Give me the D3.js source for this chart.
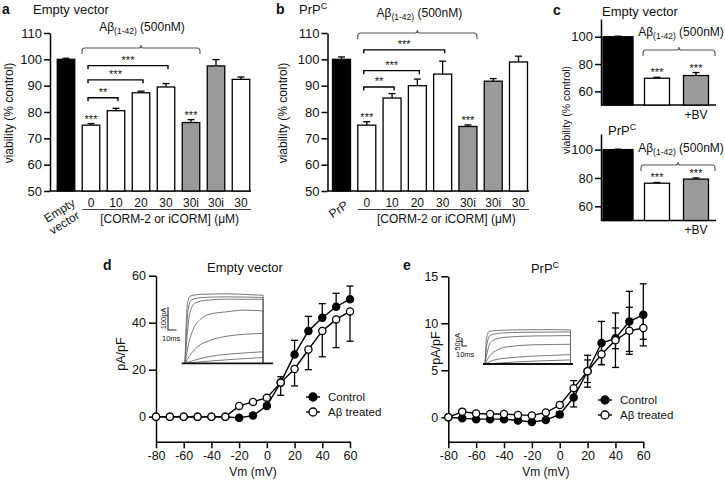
<!DOCTYPE html>
<html>
<head>
<meta charset="utf-8">
<script src="https://cdn.jsdelivr.net/npm/d3@7"></script>
<style>
  body { margin: 0; background: #fff; }
  svg { font-family: "Liberation Sans", Arial, sans-serif; }
</style>
</head>
<body>
<svg id="fig" width="725" height="484"></svg>
<script>
// ---------- data ----------
// panels a / b : cell viability
const doseLabels = ["0", "10", "20", "30", "30i", "30i", "30"];
const barFill = ["#000", "#fff", "#fff", "#fff", "#fff", "#9a9a9a", "#9a9a9a", "#fff"];
const viabilityA = [100, 75, 80.5, 87.3, 89.5, 76, 97.5, 92.4];
const viabilityErrA = [0.4, 0.6, 0.9, 0.6, 1.3, 1.1, 2.4, 0.9];
const viabilityB = [100, 75, 85.3, 90, 94.4, 74.5, 91.7, 99];
const viabilityErrB = [0.9, 1.3, 1.7, 2.5, 4.9, 0.6, 1.0, 2.2];
const starBars = [1, 5];
const sigPairs = [[1, 2, "**"], [1, 3, "***"], [1, 4, "***"]];
const sigLevelsA = [85.4, 92.2, 97.6];
const sigLevelsB = [89.5, 95.7, 103.6];
const viabTicks = [50, 60, 70, 80, 90, 100, 110];

// panel c : biliverdin
const bvFill = ["#000", "#fff", "#9a9a9a"];
const viabilityC1 = [100, 69.6, 71.6];
const viabilityErrC1 = [0.4, 0.7, 2.2];
const viabilityC2 = [100, 76.3, 79.2];
const viabilityErrC2 = [0.3, 0.5, 0.8];
const viabTicksC = [60, 80, 100];

// panels d / e : I-V relations
const vm = [-80, -70, -60, -50, -40, -30, -20, -10, 0, 10, 20, 30, 40, 50, 60];
const vmTicks = [-80, -60, -40, -20, 0, 20, 40, 60];
const ivCtrlD = [0, 0, 0, 0, 0, 0, -0.5, 0.5, 4.6, 14.6, 26.5, 36.5, 42.1, 46.8, 50];
const ivCtrlErrD = [0, 0, 0, 0, 0, 0, 0.3, 0.8, 1, 2.4, 6, 6.2, 6, 5.7, 5.6];
const ivAbD = [0, 0, 0, 0, 0, 0, 4.6, 6.3, 8.1, 14.5, 20.3, 28.6, 36.5, 41.4, 44.8];
const ivAbErrD = [0, 0, 0, 0, 0, 0, 0.5, 0.8, 1, 5.4, 7.2, 8.6, 11, 12, 12.7];
const ivCtrlE = [0, -0.1, -0.2, -0.2, -0.2, -0.35, -0.5, -0.3, 0.3, 2.1, 4.9, 7.9, 8.4, 10.2, 10.9];
const ivCtrlErrE = [0, 0.1, 0.1, 0.1, 0.1, 0.1, 0.1, 0.1, 0.3, 1.0, 1.2, 2.3, 1.1, 3.2, 3.3];
const ivAbE = [0, 0.6, 0.4, 0.35, 0.35, 0.25, 0.2, 0.5, 1.3, 3.1, 4.9, 6.7, 8.2, 9.2, 9.5];
const ivAbErrE = [0, 0.1, 0.1, 0.1, 0.1, 0.1, 0.1, 0.1, 0.2, 0.8, 1.7, 1.1, 2.9, 2.5, 1.2];

// inset current traces, [ms, pA]
const tracesD = [
  [[0, 0], [1.5, 180], [3, 260], [6, 292], [20, 300], [50, 302], [80, 298], [93, 296]],
  [[0, 0], [2, 150], [4, 240], [8, 276], [20, 286], [50, 289], [93, 286]],
  [[0, 0], [3, 140], [6, 222], [12, 262], [25, 274], [50, 279], [93, 278]],
  [[0, 0], [4, 80], [10, 150], [18, 190], [30, 214], [50, 224], [70, 231], [93, 228]],
  [[0, 0], [5, 30], [15, 72], [30, 100], [50, 118], [70, 126], [93, 130]],
  [[0, 0], [10, 12], [30, 30], [60, 42], [93, 50]],
  [[0, 0], [30, 10], [60, 18], [93, 25]]
];
const tracesE = [
  [[0, 0], [3, 150], [8, 195], [30, 202], [80, 205], [130, 206], [171, 204]],
  [[0, 0], [4, 120], [10, 170], [30, 185], [80, 190], [171, 192]],
  [[0, 0], [6, 90], [15, 140], [40, 160], [100, 168], [171, 170]],
  [[0, 0], [10, 50], [25, 85], [50, 105], [100, 115], [171, 118]],
  [[0, 0], [20, 25], [60, 40], [120, 50], [171, 56]],
  [[0, 0], [60, 12], [171, 24]]
];

// ---------- helpers ----------
const svg = d3.select("#fig");

function styleAxis(sel, size) {
  sel.attr("font-size", size).attr("font-family", null);
  sel.select(".domain").attr("stroke-width", 1.5);
  sel.selectAll(".tick line").attr("stroke-width", 1.5);
  sel.selectAll(".tick text").attr("fill", "#111");
}

function addText(g, x, y, str, size, anchor, weight) {
  return g.append("text").attr("x", x).attr("y", y)
    .attr("font-size", size).attr("text-anchor", anchor || "start")
    .attr("font-weight", weight || "normal").attr("fill", "#111").text(str);
}

function prpLabel(g, x, y, size, anchor) {
  const t = addText(g, x, y, "PrP", size, anchor);
  t.append("tspan").attr("font-size", size * 0.7).attr("dy", -size * 0.38).text("C");
  return t;
}

function abetaLabel(g, x, y) {
  const t = g.append("text").attr("x", x).attr("y", y).attr("font-size", 12)
    .attr("text-anchor", "middle").attr("fill", "#111");
  t.append("tspan").text("Aβ");
  t.append("tspan").attr("font-size", 8.5).attr("dy", 3).text("(1-42)");
  t.append("tspan").attr("dy", -3).text(" (500nM)");
}

function brace(g, x0, x1, yy) {
  const xm = (x0 + x1) / 2, r = 3;
  g.append("path")
    .attr("d", `M${x0},${yy + 6}V${yy + r}Q${x0},${yy} ${x0 + r},${yy}H${xm - 2}` +
      `Q${xm},${yy} ${xm},${yy - 3}Q${xm},${yy} ${xm + 2},${yy}H${x1 - r}` +
      `Q${x1},${yy} ${x1},${yy + r}V${yy + 6}`)
    .attr("fill", "none").attr("stroke", "#555").attr("stroke-width", 1.1);
}

function stars(g, x, y, label) {
  addText(g, x, y, label, 11, "middle");
}

// bar chart with error bars
function drawBars(p) {
  const g = svg.append("g");
  const y = d3.scaleLinear().domain(p.yDomain).range(p.yRange);
  const x = d3.scaleLinear().domain([0, p.values.length - 1]).range(p.xRange);
  const base = y(p.yDomain[0]);

  const ax = g.append("g").attr("transform", `translate(${p.axisX},0)`)
    .call(d3.axisLeft(y).tickValues(p.ticks).tickSize(6).tickSizeOuter(0).tickPadding(2));
  styleAxis(ax, 13);
  g.append("line").attr("x1", p.axisX).attr("x2", p.xEnd).attr("y1", base).attr("y2", base)
    .attr("stroke", "#000").attr("stroke-width", 1.5);

  const bw = i => (p.widths ? p.widths[i] : p.barWidth);
  const bars = g.selectAll(".bar").data(p.values).join("g");
  bars.append("line")
    .attr("x1", (d, i) => x(i)).attr("x2", (d, i) => x(i))
    .attr("y1", d => y(d)).attr("y2", (d, i) => y(d + p.errors[i]))
    .attr("stroke", "#000").attr("stroke-width", 1.3);
  bars.append("line")
    .attr("x1", (d, i) => x(i) - 3.5).attr("x2", (d, i) => x(i) + 3.5)
    .attr("y1", (d, i) => y(d + p.errors[i])).attr("y2", (d, i) => y(d + p.errors[i]))
    .attr("stroke", "#000").attr("stroke-width", 1.3);
  bars.append("rect")
    .attr("x", (d, i) => x(i) - bw(i) / 2).attr("width", (d, i) => bw(i))
    .attr("y", d => y(d)).attr("height", d => base - y(d))
    .attr("fill", (d, i) => p.fills[i]).attr("stroke", "#000").attr("stroke-width", 1.3);

  p.starBars.forEach(i => stars(g, x(i), y(p.values[i] + p.errors[i]) - 1, "***"));
  return { g, x, y, bw };
}

function sigBrackets(g, x, y, levels) {
  sigPairs.forEach((s, k) => {
    const yy = y(levels[k]), x0 = x(s[0]) - 3, x1 = x(s[1]) + 2;
    g.append("path").attr("d", `M${x0},${yy + 3.5}V${yy}H${x1}V${yy + 3.5}`)
      .attr("fill", "none").attr("stroke", "#000").attr("stroke-width", 1.4);
    stars(g, (x0 + x1) / 2, yy - 1.7, s[2]);
  });
}

function doseAxis(g, x, bw, lineEnd, yNum) {
  doseLabels.forEach((l, i) => addText(g, x(i + 1), yNum, l, 12, "middle"));
  const x0 = x(1) - bw / 2;
  g.append("line").attr("x1", x0).attr("x2", lineEnd).attr("y1", yNum + 2.5).attr("y2", yNum + 2.5)
    .attr("stroke", "#444").attr("stroke-width", 1);
  addText(g, (x0 + lineEnd) / 2 + 3, yNum + 16, "[CORM-2 or iCORM] (μM)", 12, "middle");
}

function yTitle(g, x, y, str, size) {
  g.append("text").attr("transform", `translate(${x},${y}) rotate(-90)`)
    .attr("text-anchor", "middle").attr("font-size", size).attr("fill", "#111").text(str);
}

// ---------- panel a ----------
const pa = drawBars({
  values: viabilityA, errors: viabilityErrA, fills: barFill, starBars,
  yDomain: [50, 110], yRange: [191, 33], ticks: viabTicks,
  xRange: [66, 241], axisX: 50, xEnd: 251, barWidth: 17.5
});
sigBrackets(pa.g, pa.x, pa.y, sigLevelsA);
brace(pa.g, pa.x(1) - 9, pa.x(5) + 9, pa.y(104.3));
abetaLabel(pa.g, (pa.x(1) + pa.x(5)) / 2 + 1, pa.y(104.3) - 17);
doseAxis(pa.g, pa.x, 17.5, 251, 207);
addText(pa.g, 2, 14, "a", 14, "start", "bold");
addText(pa.g, 33, 14, "Empty vector", 13);
yTitle(pa.g, 13, 113, "viability (% control)", 12);
const evLab = pa.g.append("text").attr("transform", "translate(76,205) rotate(-32)")
  .attr("font-size", 12).attr("text-anchor", "end").attr("fill", "#111");
evLab.append("tspan").attr("x", 0).attr("y", 0).text("Empty");
evLab.append("tspan").attr("x", -3).attr("y", 13).text("vector");

// ---------- panel b ----------
const pb = drawBars({
  values: viabilityB, errors: viabilityErrB, fills: barFill, starBars,
  yDomain: [50, 110], yRange: [191, 33], ticks: viabTicks,
  xRange: [341.5, 518.5], axisX: 327.5, xEnd: 529, barWidth: 18
});
sigBrackets(pb.g, pb.x, pb.y, sigLevelsB);
brace(pb.g, pb.x(1) - 9, pb.x(5) + 9, pb.y(110));
abetaLabel(pb.g, (pb.x(1) + pb.x(5)) / 2 + 2, pb.y(110) - 16);
doseAxis(pb.g, pb.x, 18, 529, 207);
addText(pb.g, 276, 14, "b", 14, "start", "bold");
prpLabel(pb.g, 299, 14, 13);
yTitle(pb.g, 287, 113, "viability (% control)", 12);
pb.g.append("text").attr("transform", "translate(349,207) rotate(-35)")
  .attr("font-size", 12).attr("text-anchor", "end").attr("fill", "#111").text("PrP");

// ---------- panel c ----------
function bvPanel(values, errors, yRange, yDomain) {
  return drawBars({
    values, errors, fills: bvFill, starBars: [1, 2],
    yDomain, yRange, ticks: viabTicksC,
    xRange: [618, 696], axisX: 601, xEnd: 716, widths: [30, 25, 25]
  });
}
const pc1 = bvPanel(viabilityC1, viabilityErrC1, [105, 19], [50, 113]);
brace(pc1.g, 643, 715, 50);
abetaLabel(pc1.g, 681, 36);
addText(pc1.g, pc1.x(2), 119, "+BV", 12, "middle");
addText(pc1.g, 553, 15, "c", 14, "start", "bold");
addText(pc1.g, 602, 16, "Empty vector", 13);

const pc2 = bvPanel(viabilityC2, viabilityErrC2, [220.5, 134], [50, 111]);
brace(pc2.g, 641, 715, 165);
abetaLabel(pc2.g, 681, 152);
addText(pc2.g, pc2.x(2), 234, "+BV", 12, "middle");
prpLabel(pc2.g, 608, 135, 13);
yTitle(pc2.g, 570, 110, "viability (% control)", 10.5);

// ---------- panels d / e ----------
function drawIV(p) {
  const g = svg.append("g");
  const x = d3.scaleLinear().domain([-80, 60]).range(p.xRange);
  const y = d3.scaleLinear().domain(p.yDomain).range(p.yRange);
  const yAx = g.append("g").attr("transform", `translate(${p.xRange[0]},0)`)
    .call(d3.axisLeft(y).tickValues(p.yTicks).tickSize(7).tickSizeOuter(0).tickPadding(3));
  styleAxis(yAx, 12.5);
  const xAx = g.append("g").attr("transform", `translate(0,${p.yRange[0]})`)
    .call(d3.axisBottom(x).tickValues(vmTicks).tickSize(6.5).tickSizeOuter(0).tickPadding(3));
  styleAxis(xAx, 12.5);
  xAx.selectAll(".tick text").text(d => (d < 0 ? "-" + Math.abs(d) : d));

  const series = [
    { v: p.ctrl, e: p.ctrlErr, fill: "#000", dir: p.symmetric ? 0 : 1 },
    { v: p.ab, e: p.abErr, fill: "#fff", dir: p.symmetric ? 0 : -1 }
  ];
  const line = d3.line().x((d, i) => x(vm[i])).y(d => y(d));
  series.forEach(s => {
    g.append("path").attr("d", line(s.v)).attr("fill", "none")
      .attr("stroke", "#000").attr("stroke-width", 1.4);
    s.v.forEach((v, i) => {
      if (s.e[i] < 0.6 && !p.symmetric) return;
      if (s.e[i] <= 0.1) return;
      const lo = s.dir > 0 ? v : v - s.e[i];
      const hi = s.dir < 0 ? v : v + s.e[i];
      g.append("line").attr("x1", x(vm[i])).attr("x2", x(vm[i]))
        .attr("y1", y(lo)).attr("y2", y(hi)).attr("stroke", "#000").attr("stroke-width", 1.3);
      [lo, hi].forEach(c => {
        if (c === v) return;
        g.append("line").attr("x1", x(vm[i]) - 3.5).attr("x2", x(vm[i]) + 3.5)
          .attr("y1", y(c)).attr("y2", y(c)).attr("stroke", "#000").attr("stroke-width", 1.3);
      });
    });
    g.selectAll(null).data(s.v).join("circle")
      .attr("cx", (d, i) => x(vm[i])).attr("cy", d => y(d)).attr("r", 3.6)
      .attr("fill", s.fill).attr("stroke", "#000").attr("stroke-width", 1.3);
  });

  // legend
  [["Control", "#000"], ["Aβ treated", "#fff"]].forEach((l, k) => {
    const ly = p.legend[1] + k * 15;
    g.append("line").attr("x1", p.legend[0] - 7).attr("x2", p.legend[0] + 7)
      .attr("y1", ly).attr("y2", ly).attr("stroke", "#000").attr("stroke-width", 1.4);
    g.append("circle").attr("cx", p.legend[0]).attr("cy", ly).attr("r", 4)
      .attr("fill", l[1]).attr("stroke", "#000").attr("stroke-width", 1.3);
    addText(g, p.legend[0] + 15, ly + 4, l[0], 11.5);
  });

  addText(g, (p.xRange[0] + p.xRange[1]) / 2, p.yRange[0] + 34, "Vm (mV)", 12, "middle");
  return { g, x, y };
}

function drawInset(g, traces, o) {
  const xs = d3.scaleLinear().domain([0, 1]).range([o.x0, o.x0 + o.pxPerMs]);
  const ys = d3.scaleLinear().domain([0, 1]).range([o.y0, o.y0 - o.pxPerPa]);
  const line = d3.line().x(d => xs(d[0])).y(d => ys(d[1])).curve(d3.curveMonotoneX);
  traces.forEach(tr => {
    g.append("path").attr("d", line(tr) + `V${ys(0)}`).attr("fill", "none")
      .attr("stroke", "#6a6a6a").attr("stroke-width", 0.9);
  });
  g.append("line").attr("x1", xs(-4)).attr("x2", xs(o.tail)).attr("y1", ys(0)).attr("y2", ys(0))
    .attr("stroke", "#111").attr("stroke-width", 1.8);
  // scale bar
  const sx = o.bar[0], sy = o.bar[1];
  g.append("path")
    .attr("d", `M${sx},${sy - (ys(0) - ys(o.barPa))}V${sy}H${sx + (xs(10) - xs(0))}`)
    .attr("fill", "none").attr("stroke", "#222").attr("stroke-width", 1.1);
  g.append("text").attr("transform", `translate(${sx - 2.5},${sy - (ys(0) - ys(o.barPa)) / 2}) rotate(-90)`)
    .attr("text-anchor", "middle").attr("font-size", 7.5).attr("fill", "#111").text(o.barPa + "pA");
  addText(g, sx - 6, sy + 10.5, "10ms", 7.5);
}

const pd = drawIV({
  ctrl: ivCtrlD, ctrlErr: ivCtrlErrD, ab: ivAbD, abErr: ivAbErrD, symmetric: false,
  xRange: [156, 350], yDomain: [-10.64, 60], yRange: [441.7, 275.7], yTicks: [0, 20, 40, 60],
  legend: [313, 397]
});
addText(pd.g, 103, 270, "d", 14, "start", "bold");
addText(pd.g, 245, 272, "Empty vector", 13, "middle");
yTitle(pd.g, 125, 354, "pA/pF", 12.5);
drawInset(pd.g, tracesD, { x0: 185, y0: 363.3, pxPerMs: 0.84, pxPerPa: 0.23, tail: 105, bar: [168, 330], barPa: 100 });

const pe = drawIV({
  ctrl: ivCtrlE, ctrlErr: ivCtrlErrE, ab: ivAbE, abErr: ivAbErrE, symmetric: true,
  xRange: [448.3, 643.3], yDomain: [-2.6, 15], yRange: [441.7, 276.3], yTicks: [0, 5, 10, 15],
  legend: [605, 400]
});
addText(pe.g, 403, 270, "e", 14, "start", "bold");
prpLabel(pe.g, 545, 273, 13, "middle");
yTitle(pe.g, 440, 348, "pA/pF", 12.5);
drawInset(pe.g, tracesE, { x0: 485, y0: 364, pxPerMs: 0.5, pxPerPa: 0.167, tail: 176, bar: [462, 346], barPa: 50 });
</script>
</body>
</html>
